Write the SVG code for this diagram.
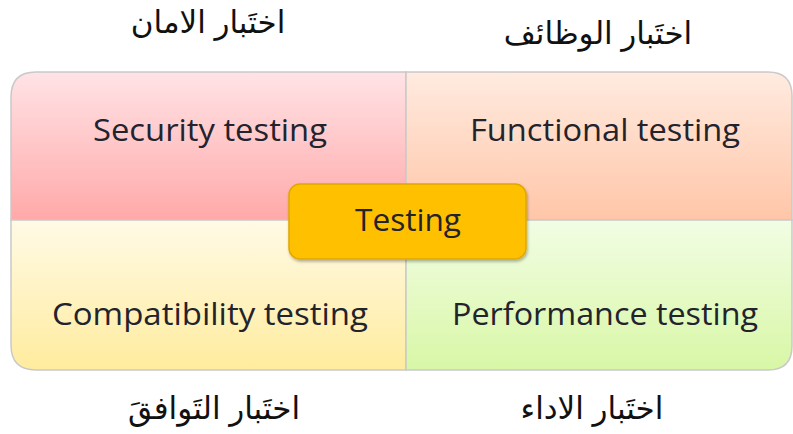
<svg xmlns="http://www.w3.org/2000/svg" width="793" height="434" viewBox="0 0 793 434">
<defs>
<linearGradient id="gTL" x1="0" y1="0" x2="0" y2="1"><stop offset="0" stop-color="#FFE3E6"/><stop offset="1" stop-color="#FFA9A9"/></linearGradient>
<linearGradient id="gTR" x1="0" y1="0" x2="0" y2="1"><stop offset="0" stop-color="#FFEBE0"/><stop offset="1" stop-color="#FFC6A8"/></linearGradient>
<linearGradient id="gBL" x1="0" y1="0" x2="0" y2="1"><stop offset="0" stop-color="#FFFAE6"/><stop offset="1" stop-color="#FFEC9E"/></linearGradient>
<linearGradient id="gBR" x1="0" y1="0" x2="0" y2="1"><stop offset="0" stop-color="#F2FDE4"/><stop offset="1" stop-color="#D8F7A6"/></linearGradient>
<filter id="sh" x="-10%" y="-10%" width="120%" height="130%"><feDropShadow dx="1" dy="2" stdDeviation="1.5" flood-color="#000" flood-opacity="0.3"/></filter>
</defs>
<style>
.q{stroke:#C9C9C9;stroke-width:1.5}
.en{font-family:"Open Sans","Noto Sans","Liberation Sans",sans-serif;font-size:31px;fill:#23232D;text-anchor:middle;dominant-baseline:central}
.ar{font-family:"Liberation Sans","DejaVu Sans",sans-serif;font-size:31px;fill:#111;text-anchor:middle;dominant-baseline:central}
</style>
<rect width="793" height="434" fill="#fff"/>
<g id="label-security-ar"><text class="ar" x="208" y="22" direction="rtl">اختَبار الامان</text></g>
<g id="label-functional-ar"><text class="ar" x="598" y="33" direction="rtl">اختَبار الوظائف</text></g>
<g id="security"><path class="q" d="M406,72 H36 Q11,72 11,97 V220 H406 Z" fill="url(#gTL)"/><text class="en" x="210" y="129" textLength="234" lengthAdjust="spacingAndGlyphs">Security testing</text></g>
<g id="functional"><path class="q" d="M406,72 H768 Q792,72 792,96 V220 H406 Z" fill="url(#gTR)"/><text class="en" x="605" y="129" textLength="270" lengthAdjust="spacingAndGlyphs">Functional testing</text></g>
<g id="compatibility"><path class="q" d="M406,220 H11 V345 Q11,370 36,370 H406 Z" fill="url(#gBL)"/><text class="en" x="210" y="313" textLength="316" lengthAdjust="spacingAndGlyphs">Compatibility testing</text></g>
<g id="performance"><path class="q" d="M406,220 H792 V346 Q792,370 768,370 H406 Z" fill="url(#gBR)"/><text class="en" x="605" y="313" textLength="306" lengthAdjust="spacingAndGlyphs">Performance testing</text></g>
<g id="connectors"></g>
<g id="testing"><rect x="289" y="184" width="237" height="75" rx="11" fill="#FFC000" stroke="#E0A800" stroke-width="1.5" filter="url(#sh)"/><text class="en" x="408" y="219" textLength="106" lengthAdjust="spacingAndGlyphs">Testing</text></g>
<g id="label-compat-ar"><text class="ar" x="214" y="408" direction="rtl">اختَبار التَوافقَ</text></g>
<g id="label-perf-ar"><text class="ar" x="592" y="408" direction="rtl">اختَبار الاداء</text></g>
</svg>
